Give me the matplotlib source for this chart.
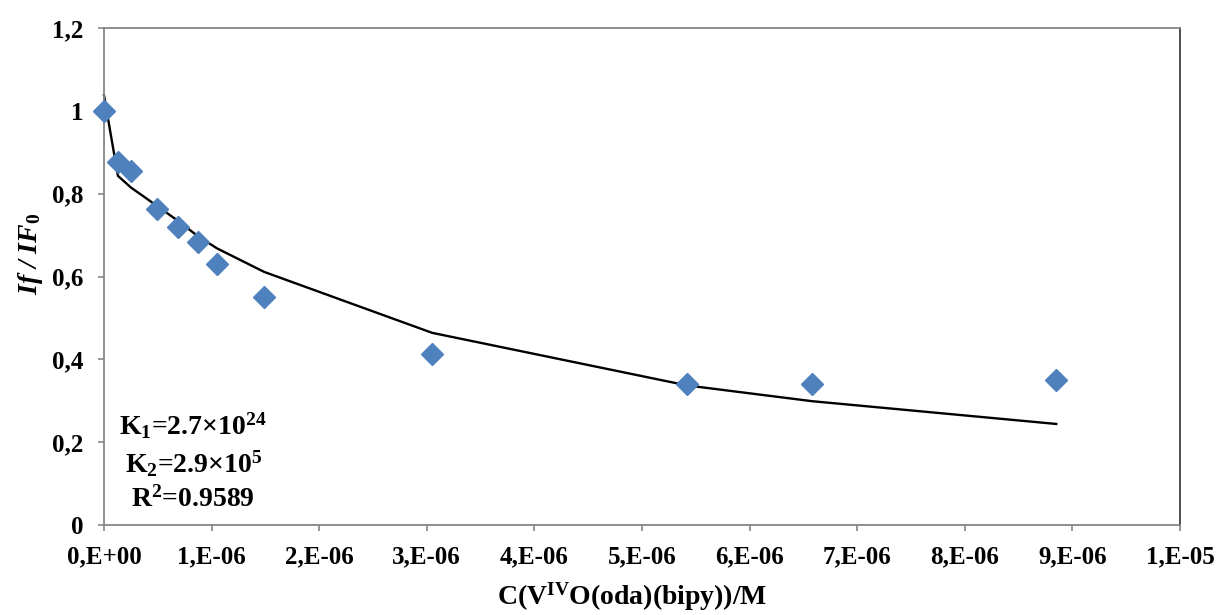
import matplotlib
matplotlib.use("Agg")
import matplotlib.pyplot as plt
from matplotlib.ticker import FixedLocator

plt.rcParams["font.family"] = ["Liberation Serif", "DejaVu Serif"]
plt.rcParams["font.weight"] = "bold"
plt.rcParams["mathtext.fontset"] = "custom"
plt.rcParams["mathtext.rm"] = "Liberation Serif:bold"
plt.rcParams["mathtext.bf"] = "Liberation Serif:bold"
plt.rcParams["mathtext.it"] = "Liberation Serif:bold:italic"

# Quencher concentration (M) and relative fluorescence intensity
conc = [0.0, 0.13e-6, 0.25e-6, 0.49e-6, 0.69e-6, 0.87e-6, 1.05e-6,
        1.49e-6, 3.05e-6, 5.42e-6, 6.58e-6, 8.85e-6]
ratio = [1.0, 0.877, 0.855, 0.763, 0.720, 0.684, 0.630,
         0.551, 0.413, 0.341, 0.341, 0.350]
# Fitted model curve evaluated at the same concentrations
fit = [1.038, 0.843, 0.815, 0.771, 0.734, 0.698, 0.668,
       0.611, 0.464, 0.337, 0.299, 0.244]

x_ticks = [i * 1e-6 for i in range(11)]
x_tick_labels = ["0,E+00", "1,E-06", "2,E-06", "3,E-06", "4,E-06", "5,E-06",
                 "6,E-06", "7,E-06", "8,E-06", "9,E-06", "1,E-05"]
y_ticks = [0, 0.2, 0.4, 0.6, 0.8, 1.0, 1.2]
y_tick_labels = ["0", "0,2", "0,4", "0,6", "0,8", "1", "1,2"]

fit_params = ["K$_1$=2.7×10$^{24}$", "K$_2$=2.9×10$^{5}$", "R$^{2}$=0.9589"]

fig = plt.figure(figsize=(12.2, 6.15), dpi=100)
ax = fig.add_axes([0.0852, 0.1463, 0.8820, 0.8082])

ax.plot(conc, ratio, linestyle="none", marker="D", markersize=11.5,
        color="#4F81BD", markeredgecolor="#4F81BD", zorder=3, clip_on=False)
ax.plot(conc, fit, color="black", linewidth=1.7, zorder=2, clip_on=False)

ax.set_xlim(0, 1e-5)
ax.set_ylim(0, 1.2)
ax.xaxis.set_major_locator(FixedLocator(x_ticks))
ax.yaxis.set_major_locator(FixedLocator(y_ticks))
ax.set_xticklabels(x_tick_labels)
ax.set_yticklabels(y_tick_labels)

ax.tick_params(axis="both", direction="out", length=4.5, width=1.2,
               color="#868686", labelsize=18, pad=10)

for side in ("left", "bottom", "top"):
    ax.spines[side].set_color("#868686")
    ax.spines[side].set_linewidth(1.3)
ax.spines["right"].set_color("#404040")
ax.spines["right"].set_linewidth(1.3)

ax.set_ylabel("If / IF$_{\\mathit{0}}$", fontsize=20, fontstyle="italic",
              fontweight="bold")
ax.yaxis.set_label_coords(-0.055, 0.545)
ax.set_xlabel("C(V$^{\\mathrm{IV}}$O(oda)(bipy))/M", fontsize=20,
              fontweight="bold")
ax.xaxis.set_label_coords(0.491, -0.112)

for txt, yy in zip(fit_params, [0.199, 0.124, 0.052]):
    ax.text(0.083, yy, txt, transform=ax.transAxes, ha="center", va="center",
            fontsize=20, fontweight="bold")

fig.savefig("out.png", dpi=100, facecolor="white")
